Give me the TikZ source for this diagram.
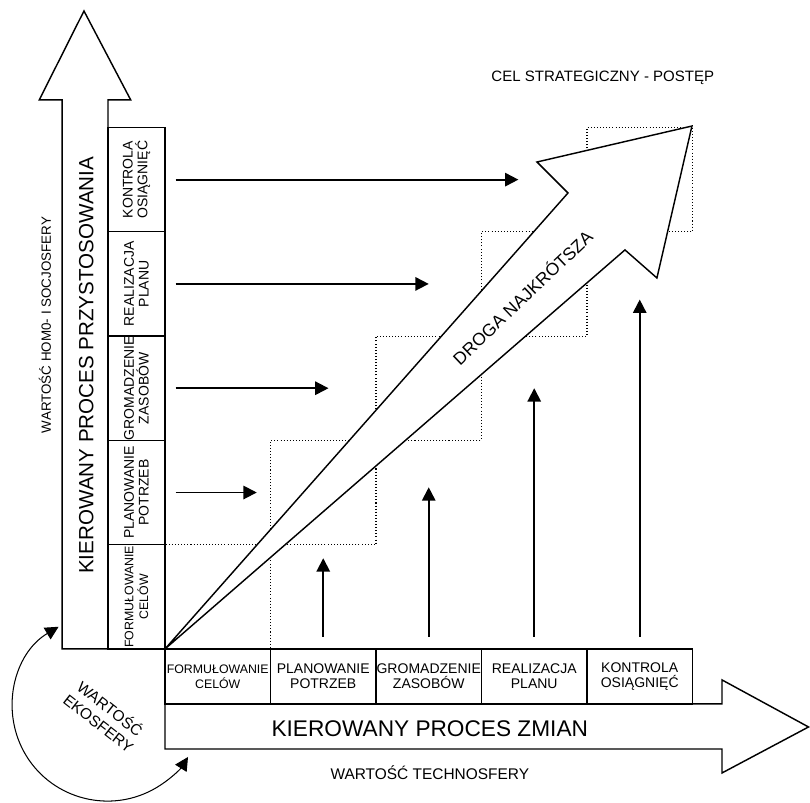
\documentclass[tikz,border=0pt]{standalone}
\usepackage{fontspec}
\setmainfont{Liberation Sans}
\usetikzlibrary{arrows.meta}

\tikzset{
  outline/.style={line width=0.7pt, fill=white},
  stagebox/.style={draw, line width=0.7pt, fill=white, inner sep=0pt, outer sep=0pt, align=center},
  flowarrow/.style={line width=0.9pt, -{Triangle[length=6.5pt,width=6.5pt]}},
  stairline/.style={densely dotted, line width=0.5pt}
}

\begin{document}
\begin{tikzpicture}[x=1.8cm, y=1.7795cm]
\useasboundingbox (-1.564,-1.4765) rectangle (6.114,6.2224);

% schodki
\foreach \i in {0,...,4}{
\draw [stairline] (\i,\i) rectangle (\i+1,\i+1);
}

% strzalka pionowa
\draw [outline] (-0.976,0) -- (-0.976,5.264) -- (-1.192,5.264) -- (-0.768,6.117) -- (-0.325,5.264) -- (-0.540,5.264) -- (-0.540,0) -- cycle;
\node [rotate=90, font=\fontsize{10}{12}\selectfont] (przyst) at (-0.745,2.72) {KIEROWANY PROCES PRZYSTOSOWANIA};

% strzalka pozioma
\draw [outline] (0,-0.527) -- (0,-0.959) -- (5.28,-0.959) -- (5.28,-1.189) -- (6.10,-0.748) -- (5.28,-0.297) -- (5.28,-0.527) -- cycle;
\node [font=\fontsize{11}{13}\selectfont] (zmian) at (2.51,-0.76) {KIEROWANY PROCES ZMIAN};

% etapy
\foreach \t/\s [count=\i] in {{FORMUŁOWANIE\\CELÓW}/6, {PLANOWANIE\\POTRZEB}/6.8, {GROMADZENIE\\ZASOBÓW}/6.8, {REALIZACJA\\PLANU}/6.8, {KONTROLA\\OSIĄGNIĘĆ}/6.8}{
\node [stagebox, font=\fontsize{\s}{7.2}\selectfont, minimum width=1.8cm, minimum height=0.938cm] (f\i) at (\i-0.5,-0.2635) {\t};
\node [stagebox, font=\fontsize{\s}{7.2}\selectfont, rotate=90, minimum width=1.7795cm, minimum height=0.972cm] (p\i) at (-0.27,\i-0.5) {\t};
}

% droga najkrotsza
\draw [outline] (0,0) -- (4.36,3.826) -- (4.663,3.557) -- (4.995,5.014) -- (3.526,4.669) -- (3.82,4.372) -- cycle;
\node [rotate=43.5, font=\fontsize{8.5}{10}\selectfont] (droga) at (3.384,3.375) {DROGA NAJKRÓTSZA};

% strzalki
\foreach \t [count=\i] in {0.87,1.55,2.5,3.35}{
\coordinate (row\i) at (0.1,\i+0.5);
\coordinate (col\i) at (\i+0.5,0.115);
\draw [flowarrow] (row\i) -- (\t,\i+0.5);
\draw [flowarrow] (col\i) -- (\i+0.5,\t);
}

\node [font=\fontsize{7.3}{9}\selectfont] (cel) at (4.15,5.475) {CEL STRATEGICZNY - POSTĘP};
\node [font=\fontsize{7.5}{9}\selectfont] (techno) at (2.51,-1.19) {WARTOŚĆ TECHNOSFERY};
\node [rotate=90, font=\fontsize{6.5}{8}\selectfont] (socjo) at (-1.137,3.106) {WARTOŚĆ HOM0- I SOCJOSFERY};
\node [rotate=-38, align=center, font=\fontsize{7.5}{9}\selectfont] (eko) at (-0.569,-0.635) {WARTOŚĆ\\EKOSFERY};

% ekosfera
\coordinate (ekoc) at (-0.55,-0.55);
\draw [line width=0.5pt, {Triangle[length=6.5pt,width=6.5pt]}-{Triangle[length=6.5pt,width=6.5pt]}] (ekoc) ++(121:0.89) arc (121:328:0.9);
\end{tikzpicture}
\end{document}
